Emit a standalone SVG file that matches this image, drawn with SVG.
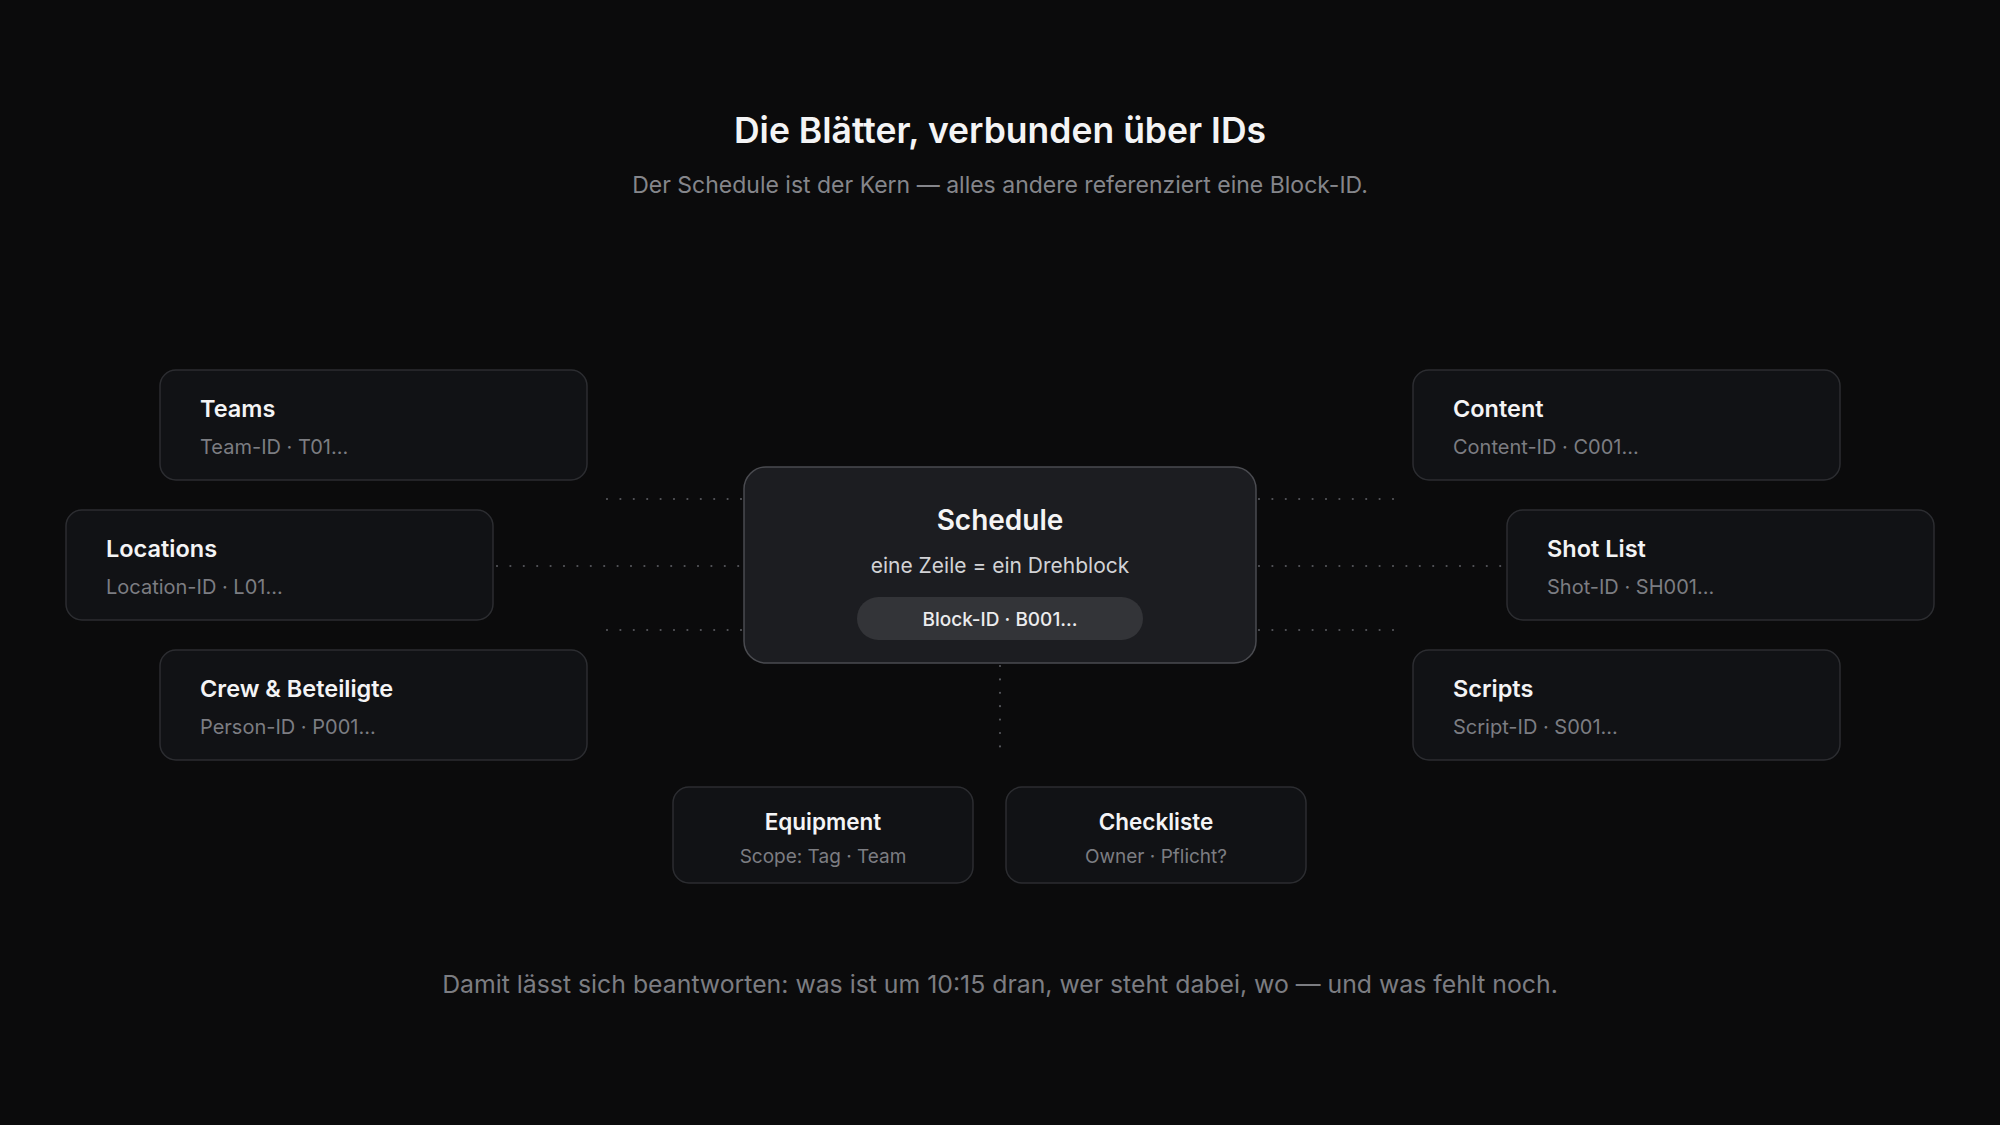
<svg xmlns="http://www.w3.org/2000/svg" width="2000" height="1125" viewBox="0 0 2000 1125">
<style>
text{font-family:Inter,"Noto Sans",sans-serif}
.box{fill:#111215;stroke:#2c2d31;stroke-width:1.5}
.core{fill:#1c1d21;stroke:#4a4b50;stroke-width:1.5}
.t{font-size:23.5px;font-weight:600;fill:#f4f4f5}
.s{font-size:20px;fill:#7c7d82}
.bt{font-size:22.5px;font-weight:600;fill:#f4f4f5;text-anchor:middle}
.bs{font-size:19px;fill:#7c7d82;text-anchor:middle}
.dot{stroke:#55565b;stroke-width:2.2;stroke-linecap:round;stroke-dasharray:0 13.4;fill:none}
</style>
<rect width="2000" height="1125" fill="#0b0b0c"/>
<text x="1000" y="143" text-anchor="middle" font-size="35.5" font-weight="600" fill="#f4f4f5">Die Blätter, verbunden über IDs</text>
<text x="1000" y="193" text-anchor="middle" font-size="23" fill="#85868b">Der Schedule ist der Kern — alles andere referenziert eine Block-ID.</text>
<g id="connectors">
<line class="dot" x1="607" y1="499" x2="744" y2="499"/>
<line class="dot" x1="497" y1="566" x2="744" y2="566"/>
<line class="dot" x1="607" y1="630" x2="744" y2="630"/>
<line class="dot" x1="1259" y1="499" x2="1394" y2="499"/>
<line class="dot" x1="1259" y1="566" x2="1505" y2="566"/>
<line class="dot" x1="1259" y1="630" x2="1394" y2="630"/>
<line class="dot" x1="1000" y1="666" x2="1000" y2="748"/>
</g>
<g id="teams"><rect class="box" x="160" y="370" width="427" height="110" rx="16"/><text class="t" x="200" y="417">Teams</text><text class="s" x="200" y="454">Team-ID · T01...</text></g>
<g id="locations"><rect class="box" x="66" y="510" width="427" height="110" rx="16"/><text class="t" x="106" y="557">Locations</text><text class="s" x="106" y="594">Location-ID · L01...</text></g>
<g id="crew"><rect class="box" x="160" y="650" width="427" height="110" rx="16"/><text class="t" x="200" y="697">Crew &amp; Beteiligte</text><text class="s" x="200" y="734">Person-ID · P001...</text></g>
<g id="content"><rect class="box" x="1413" y="370" width="427" height="110" rx="16"/><text class="t" x="1453" y="417">Content</text><text class="s" x="1453" y="454">Content-ID · C001...</text></g>
<g id="shotlist"><rect class="box" x="1507" y="510" width="427" height="110" rx="16"/><text class="t" x="1547" y="557">Shot List</text><text class="s" x="1547" y="594">Shot-ID · SH001...</text></g>
<g id="scripts"><rect class="box" x="1413" y="650" width="427" height="110" rx="16"/><text class="t" x="1453" y="697">Scripts</text><text class="s" x="1453" y="734">Script-ID · S001...</text></g>
<g id="schedule"><rect class="core" x="744" y="467" width="512" height="196" rx="22"/>
<text x="1000" y="530" text-anchor="middle" font-size="28" font-weight="600" fill="#f4f4f5">Schedule</text>
<text x="1000" y="573" text-anchor="middle" font-size="21" fill="#d2d3d6">eine Zeile = ein Drehblock</text>
<rect x="857" y="597" width="286" height="43" rx="21.5" fill="#333438"/>
<text x="1000" y="626" text-anchor="middle" font-size="19" font-weight="500" fill="#ececee">Block-ID · B001...</text></g>
<g id="equipment"><rect class="box" x="673" y="787" width="300" height="96" rx="16"/><text class="bt" x="823" y="830">Equipment</text><text class="bs" x="823" y="863">Scope: Tag · Team</text></g>
<g id="checkliste"><rect class="box" x="1006" y="787" width="300" height="96" rx="16"/><text class="bt" x="1156" y="830">Checkliste</text><text class="bs" x="1156" y="863">Owner · Pflicht?</text></g>
<text x="1000" y="993" text-anchor="middle" font-size="24.8" fill="#7c7d82">Damit lässt sich beantworten: was ist um 10:15 dran, wer steht dabei, wo — und was fehlt noch.</text>
</svg>
